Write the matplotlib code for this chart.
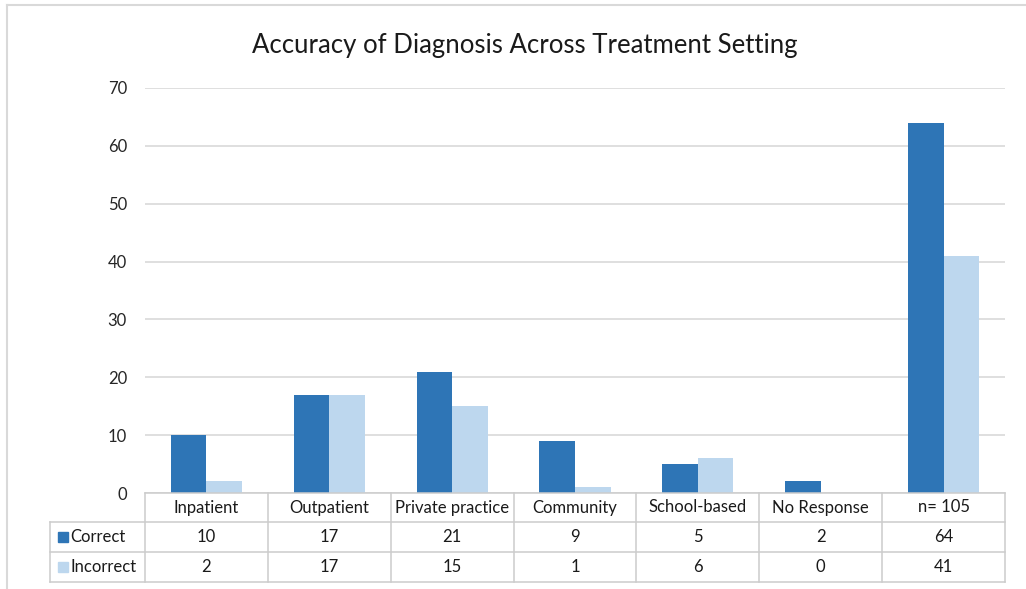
import matplotlib
matplotlib.use("Agg")
import matplotlib.pyplot as plt
import numpy as np
from matplotlib.patches import Rectangle
from matplotlib.lines import Line2D

categories = ["Inpatient", "Outpatient", "Private practice", "Community",
              "School-based", "No Response", "n= 105"]
correct = [10, 17, 21, 9, 5, 2, 64]
incorrect = [2, 17, 15, 1, 6, 0, 41]
series_names = ["Correct", "Incorrect"]
colors = ["#2E75B6", "#BDD7EE"]

plt.rcParams['font.family'] = ['Lato', 'DejaVu Sans']

W, H = 1026, 589
fig = plt.figure(figsize=(W / 100, H / 100), dpi=100)

def fx(px):
    return px / W

def fy(py):
    return 1 - py / H

# plot area in pixels
left, right, top, bottom = 145, 1005, 88, 493
ax = fig.add_axes([fx(left), fy(bottom), fx(right) - fx(left), fy(top) - fy(bottom)])

x = np.arange(len(categories))
bw = 0.29
ax.bar(x - bw / 2, correct, bw, color=colors[0], zorder=3)
ax.bar(x + bw / 2, incorrect, bw, color=colors[1], zorder=3)

ax.set_xlim(-0.5, len(categories) - 0.5)
ax.set_ylim(0, 70)
ax.set_yticks(range(0, 71, 10))
ax.set_xticks([])
ax.grid(axis='y', color='#D9D9D9', linewidth=1.2, zorder=0)
for s in ax.spines.values():
    s.set_visible(False)
ax.tick_params(axis='y', length=0, pad=13, labelsize=12, labelcolor='#262626')

fig.text(fx(525), fy(45), "Accuracy of Diagnosis Across Treatment Setting",
         ha='center', va='center', fontsize=18.5, color='#1a1a1a')

# data table under the plot, drawn with lines in pixel positions
tab_left = 50
rows = [493, 522, 552, 582]
col_w = (right - left) / len(categories)
edges = [left + i * col_w for i in range(len(categories) + 1)]
grey = '#CCCCCC'

def hline(y, x0, x1):
    fig.add_artist(Line2D([fx(x0), fx(x1)], [fy(y), fy(y)], color=grey, linewidth=1.1))

def vline(xp, y0, y1):
    fig.add_artist(Line2D([fx(xp), fx(xp)], [fy(y0), fy(y1)], color=grey, linewidth=1.1))

hline(rows[0], left, right)
for r in rows[1:]:
    hline(r, tab_left, right)
vline(tab_left, rows[1], rows[3])
for e in edges:
    vline(e, rows[0], rows[3])

for i, cat in enumerate(categories):
    xc = (edges[i] + edges[i + 1]) / 2
    fig.text(fx(xc), fy((rows[0] + rows[1]) / 2), cat, ha='center', va='center',
             fontsize=12, color='#1a1a1a')
    for j, vals in enumerate([correct, incorrect]):
        fig.text(fx(xc), fy((rows[j + 1] + rows[j + 2]) / 2), str(vals[i]),
                 ha='center', va='center', fontsize=12, color='#1a1a1a')

for i, name in enumerate(series_names):
    yc = (rows[i + 1] + rows[i + 2]) / 2
    fig.patches.append(Rectangle((fx(58), fy(yc + 5)), fx(10), 10 / H,
                                 transform=fig.transFigure, color=colors[i]))
    fig.text(fx(70), fy(yc), name, ha='left', va='center', fontsize=12, color='#1a1a1a')

# outer chart frame
fig.add_artist(Line2D([fx(7), 1], [fy(5), fy(5)], color='#D9D9D9', linewidth=1.5))
fig.add_artist(Line2D([fx(7), fx(7)], [0, fy(5)], color='#D9D9D9', linewidth=1.5))

fig.savefig("out.png", dpi=100)
